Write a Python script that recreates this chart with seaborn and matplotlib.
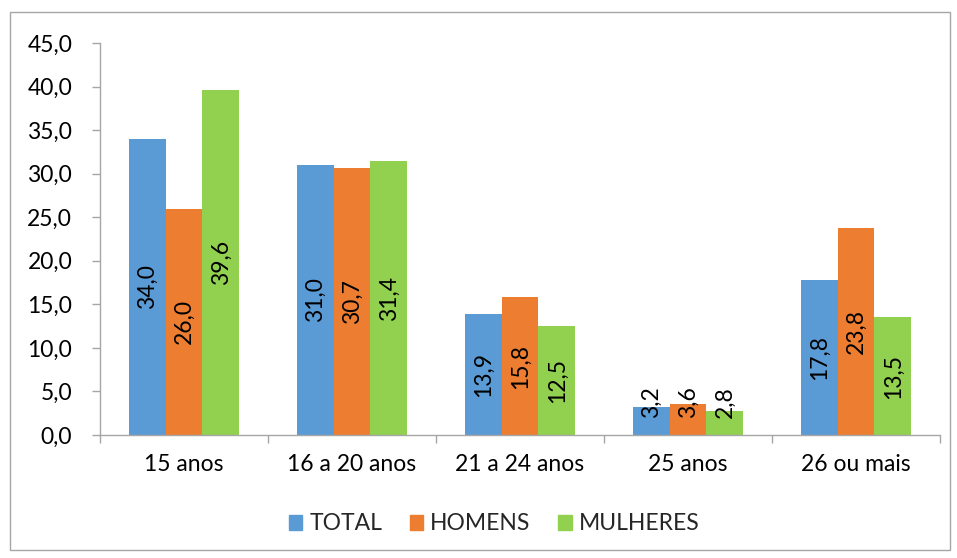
import matplotlib
matplotlib.use("Agg")
import matplotlib.pyplot as plt
import seaborn as sns
import pandas as pd
from matplotlib.patches import Rectangle
from matplotlib.ticker import FixedLocator, FuncFormatter

categories = ["15 anos", "16 a 20 anos", "21 a 24 anos", "25 anos", "26 ou mais"]
series = ["TOTAL", "HOMENS", "MULHERES"]
total = [34.0, 31.0, 13.9, 3.2, 17.8]
homens = [26.0, 30.7, 15.8, 3.6, 23.8]
mulheres = [39.6, 31.4, 12.5, 2.8, 13.5]
colors = ["#5B9BD5", "#ED7D31", "#92D050"]
yticks = [0, 5, 10, 15, 20, 25, 30, 35, 40, 45]

rows = []
for s, vals in zip(series, [total, homens, mulheres]):
    for c, v in zip(categories, vals):
        rows.append({"cat": c, "serie": s, "val": v})
df = pd.DataFrame(rows)

sns.set_theme(style="white")
plt.rcParams["font.family"] = ["Lato", "DejaVu Sans"]
FS = 16.5

fig = plt.figure(figsize=(9.57, 5.58), dpi=100)
ax = fig.add_axes([100/957, 1-435/558, 840/957, 392/558])

sns.barplot(data=df, x="cat", y="val", hue="serie", order=categories,
            hue_order=series, palette=colors, width=0.66, gap=0,
            saturation=1, ax=ax, legend=False, errorbar=None)

for cont in ax.containers:
    for bar in cont:
        bar.set_edgecolor("none")

# labels
for cont in ax.containers:
    for bar in cont:
        h = bar.get_height()
        x = bar.get_x() + bar.get_width() / 2
        yc = max(h / 2, 3.8)
        ax.text(x, yc, f"{h:.1f}".replace(".", ","), rotation=90,
                ha="center", va="center", fontsize=FS, color="black")

ax.set_ylim(0, 45)
ax.set_xlim(-0.5, 4.5)
ax.set_yticks(yticks)
ax.yaxis.set_major_formatter(FuncFormatter(lambda v, p: f"{v:.1f}".replace(".", ",")))
ax.set_xlabel("")
ax.set_ylabel("")
ax.tick_params(axis="y", labelsize=FS, length=6, color="#A6A6A6", width=1, left=True, pad=14)
ax.tick_params(axis="x", which="major", labelsize=FS, length=0, pad=14)
ax.xaxis.set_minor_locator(FixedLocator([-0.5, 0.5, 1.5, 2.5, 3.5, 4.5]))
ax.tick_params(axis="x", which="minor", length=6, color="#A6A6A6", width=1, bottom=True)
for t in ax.get_xticklabels() + ax.get_yticklabels():
    t.set_color("black")

for side in ["top", "right"]:
    ax.spines[side].set_visible(False)
for side in ["left", "bottom"]:
    ax.spines[side].set_color("#A6A6A6")
    ax.spines[side].set_linewidth(1)

handles = [Rectangle((0, 0), 1, 1, color=c) for c in colors]
fig.legend(handles, series, loc="center", bbox_to_anchor=(494/957, 1-524/558),
           ncol=3, frameon=False, fontsize=FS, handlelength=0.6, handleheight=0.6,
           handletextpad=0.3, columnspacing=1.2)

fig.patches.append(Rectangle((10/957, 8/558), 940/957, 538/558, transform=fig.transFigure,
                             fill=False, edgecolor="#A6A6A6", linewidth=1))

fig.savefig("out.png", dpi=100)
